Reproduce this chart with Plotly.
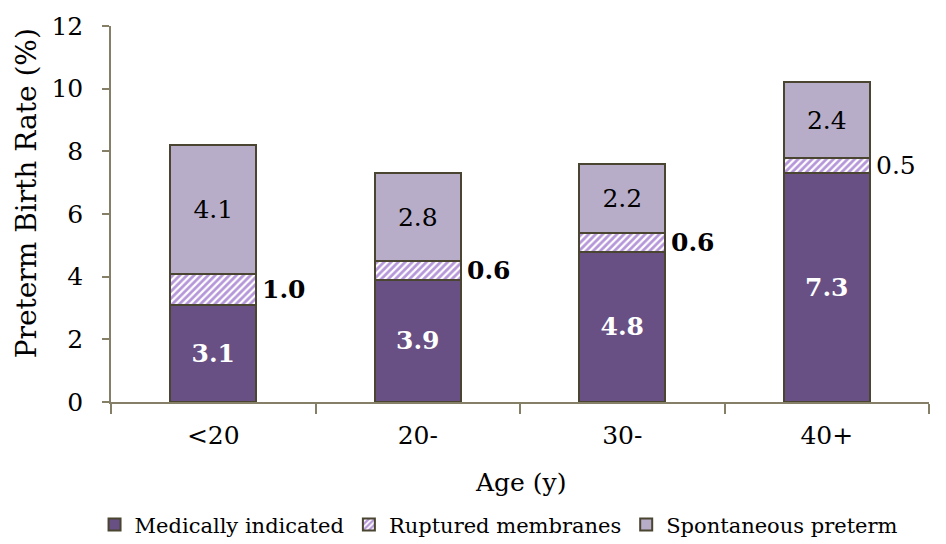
import plotly.graph_objects as go

# Preterm birth rate by maternal age, split by clinical pathway
age_groups = ["<20", "20-", "30-", "40+"]
medically_indicated = [3.1, 3.9, 4.8, 7.3]
ruptured_membranes = [1.0, 0.6, 0.6, 0.5]
spontaneous_preterm = [4.1, 2.8, 2.2, 2.4]
ruptured_label_bold = [True, True, True, False]

FONT = "DejaVu Serif"
DARK = "#685084"
LIGHT = "#B8ADC9"
HATCH = "#6C2FB4"
EDGE = "#4A4530"
AXIS = "#867F68"
SIZE = 25

fig = go.Figure()

fig.add_trace(go.Bar(
    name="Medically indicated",
    x=age_groups, y=medically_indicated,
    marker=dict(color=DARK, line=dict(color=EDGE, width=2)),
    text=[f"{v:.1f}" for v in medically_indicated],
    textposition="inside", insidetextanchor="middle", textangle=0,
    insidetextfont=dict(family=FONT, size=SIZE, color="white", weight="bold"),
    hoverinfo="skip",
))
fig.add_trace(go.Bar(
    name="Ruptured membranes",
    x=age_groups, y=ruptured_membranes,
    marker=dict(color="white", line=dict(color=EDGE, width=2),
                pattern=dict(shape="/", fgcolor=HATCH, bgcolor="white",
                             size=5, solidity=0.55)),
    hoverinfo="skip",
))
fig.add_trace(go.Bar(
    name="Spontaneous preterm",
    x=age_groups, y=spontaneous_preterm,
    marker=dict(color=LIGHT, line=dict(color=EDGE, width=2)),
    text=[f"{v:.1f}" for v in spontaneous_preterm],
    textposition="inside", insidetextanchor="middle", textangle=0,
    insidetextfont=dict(family=FONT, size=SIZE, color="black"),
    hoverinfo="skip",
))

# Labels for the thin middle segment sit just right of each bar
for g, base, v, bold in zip(age_groups, medically_indicated,
                            ruptured_membranes, ruptured_label_bold):
    fig.add_annotation(
        x=g, y=base + v / 2, text=f"{v:.1f}", showarrow=False,
        xanchor="left", yanchor="middle", xshift=47,
        font=dict(family=FONT, size=SIZE, color="black",
                  weight="bold" if bold else "normal"),
    )

# Axis titles
fig.add_annotation(
    text="Preterm Birth Rate (%)", textangle=-90, showarrow=False,
    xref="paper", yref="paper", x=0, xshift=-85, y=0.555,
    xanchor="center", yanchor="middle",
    font=dict(family=FONT, size=28, color="black"),
)
fig.add_annotation(
    text="Age (y)", showarrow=False,
    xref="paper", yref="paper", x=0.5, y=0, yshift=-80,
    xanchor="center", yanchor="middle",
    font=dict(family=FONT, size=SIZE, color="black"),
)

fig.update_layout(
    barmode="stack",
    bargap=0.58,
    width=946, height=544,
    margin=dict(l=111, r=17, t=23, b=142),
    plot_bgcolor="white", paper_bgcolor="white",
    font=dict(family=FONT, size=SIZE, color="black"),
    showlegend=True,
    legend=dict(
        orientation="h", xref="container", yref="container",
        x=0.527, xanchor="center", y=0.035, yanchor="middle",
        font=dict(family=FONT, size=21, color="black"),
        itemwidth=30, tracegroupgap=0, traceorder="normal",
    ),
    xaxis=dict(
        showline=True, linecolor=AXIS, linewidth=1.5,
        ticks="outside", tickson="boundaries", ticklen=10,
        tickcolor=AXIS, tickwidth=1.5, ticklabelstandoff=10,
        tickfont=dict(family=FONT, size=SIZE),
    ),
    yaxis=dict(
        range=[0, 12], dtick=2, showgrid=False, zeroline=False,
        showline=True, linecolor=AXIS, linewidth=1.5,
        ticks="outside", ticklen=7, tickcolor=AXIS, tickwidth=1.5,
        ticklabelstandoff=14,
        tickfont=dict(family=FONT, size=SIZE),
    ),
)

fig.write_html("out.html")
